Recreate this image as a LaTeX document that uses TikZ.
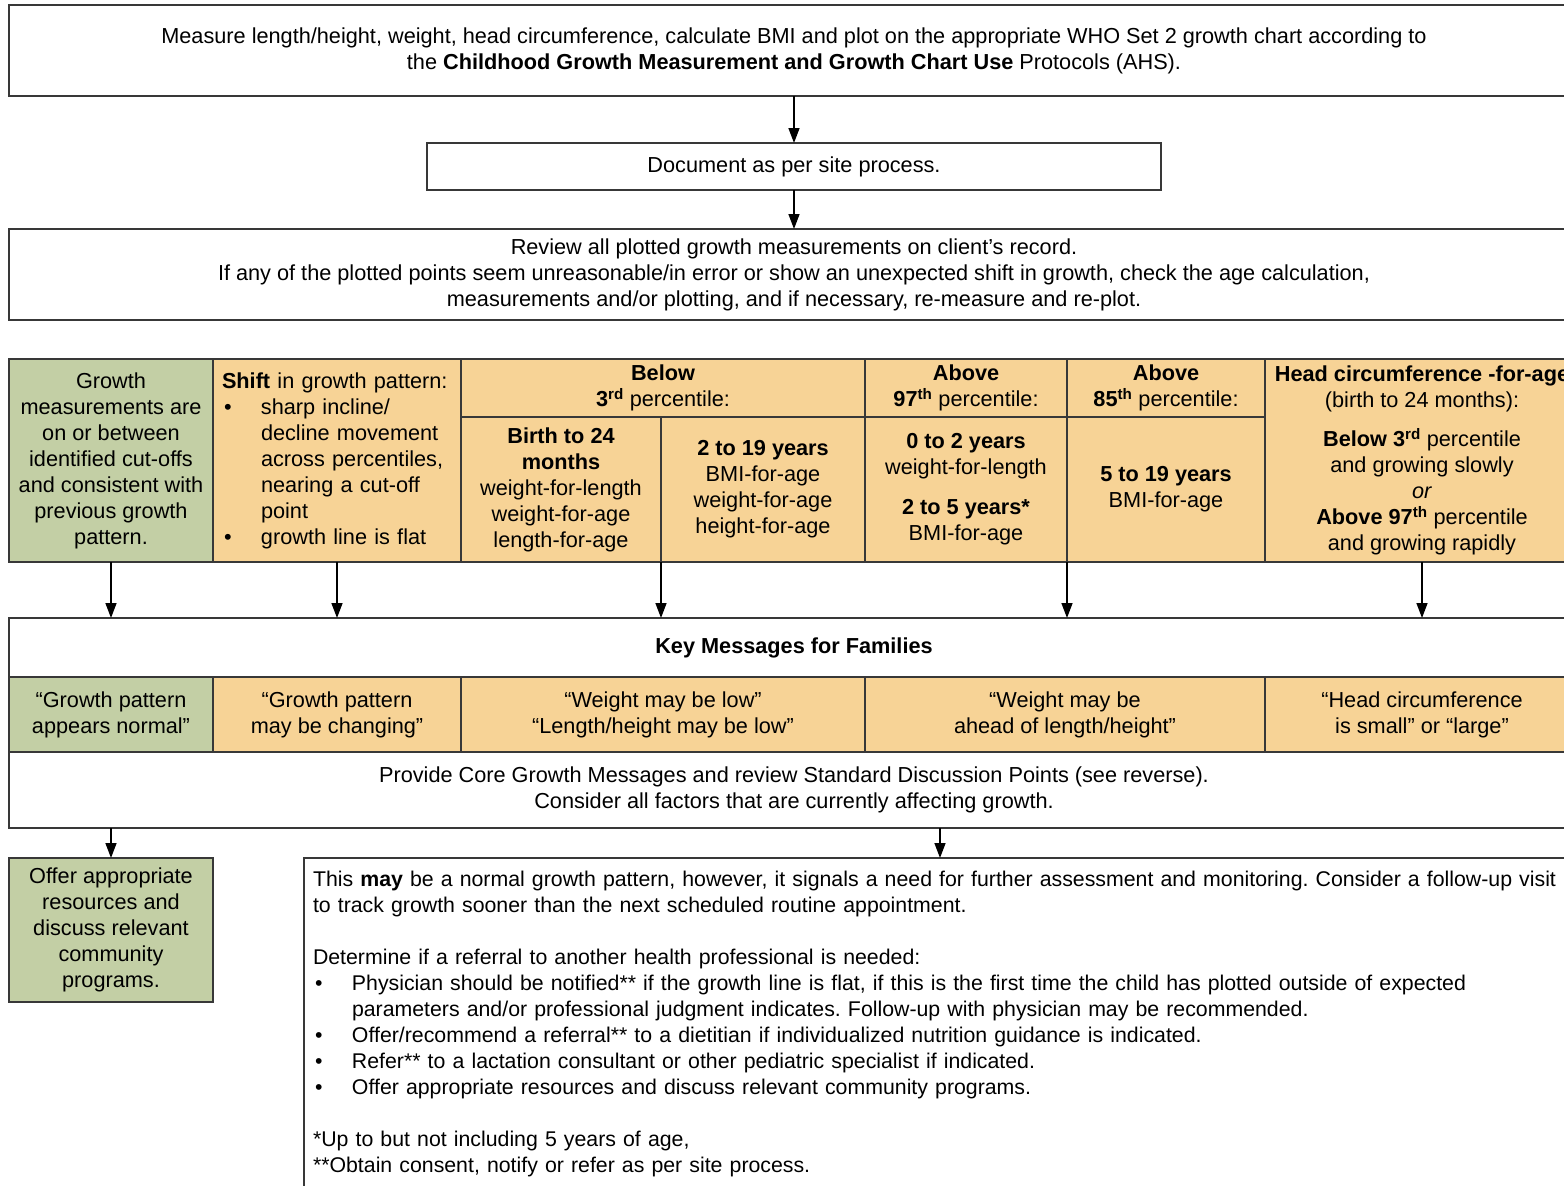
\documentclass[tikz,border=0pt]{standalone}
\usepackage{fontspec}
\setmainfont{Liberation Sans}
\usetikzlibrary{arrows.meta}
\definecolor{gfill}{HTML}{C3CFA5}
\definecolor{ofill}{HTML}{F7D396}
\definecolor{linec}{HTML}{383838}
\newcommand{\bul}{\makebox[39pt][l]{\hspace{2pt}\textbullet}}
\newcommand{\ind}{\hspace*{39pt}}
\frenchspacing
\begin{document}
\begin{tikzpicture}[x=1pt,y=-1pt,
  every node/.style={font=\fontsize{21.7}{26}\selectfont, inner sep=0pt, outer sep=0pt},
  box/.style={draw=linec, line width=1.3pt, fill=white, anchor=north west, align=center},
  gcell/.style={box, fill=gfill},
  ocell/.style={box, fill=ofill},
  arr/.style={draw=black, line width=1.5pt, -{Triangle[length=15pt,width=11pt]}}]
\useasboundingbox (0,0) rectangle (1564,1186);
\clip (0,0) rectangle (1564,1186);

% top flow
\node[box, minimum width=1570pt, minimum height=91pt] (top) at (9,5)
  {Measure length/height, weight, head circumference, calculate BMI and plot on the appropriate WHO Set 2 growth chart according to\\
   the \textbf{Childhood Growth Measurement and Growth Chart Use} Protocols (AHS).};
\node[box, minimum width=734pt, minimum height=47pt] (doc) at (427,143) {Document as per site process.};
\node[box, minimum width=1570pt, minimum height=91pt] (rev) at (9,229)
  {Review all plotted growth measurements on client’s record.\\
   If any of the plotted points seem unreasonable/in error or show an unexpected shift in growth, check the age calculation,\\
   measurements and/or plotting, and if necessary, re-measure and re-plot.};

% table
\node[gcell, minimum width=204pt, minimum height=203pt] (grow) at (9,359)
  {Growth\\measurements are\\on or between\\identified cut-offs\\and consistent with\\previous growth\\pattern.};
\node[ocell, minimum width=248pt, minimum height=203pt, text width=230pt, align=left] (shift) at (213,359)
  {\textbf{Shift} in growth pattern:\\
   \bul sharp incline/\\
   \ind decline movement\\
   \ind across percentiles,\\
   \ind nearing a cut-off\\
   \ind point\\
   \bul growth line is flat};
\node[ocell, minimum width=404pt, minimum height=58pt] (below) at (461,359)
  {\textbf{Below}\\\textbf{3\textsuperscript{rd}} percentile:};
\node[ocell, minimum width=200pt, minimum height=145pt] (bA) at (461,417)
  {\textbf{Birth to 24}\\\textbf{months}\\weight-for-length\\weight-for-age\\length-for-age};
\node[ocell, minimum width=204pt, minimum height=145pt] (bB) at (661,417)
  {\textbf{2 to 19 years}\\BMI-for-age\\weight-for-age\\height-for-age};
\node[ocell, minimum width=202pt, minimum height=58pt] (a97) at (865,359)
  {\textbf{Above}\\\textbf{97\textsuperscript{th}} percentile:};
\node[ocell, minimum width=202pt, minimum height=145pt] (a97b) at (865,417)
  {\textbf{0 to 2 years}\\weight-for-length\\[14pt]\textbf{2 to 5 years*}\\BMI-for-age};
\node[ocell, minimum width=198pt, minimum height=58pt] (a85) at (1067,359)
  {\textbf{Above}\\\textbf{85\textsuperscript{th}} percentile:};
\node[ocell, minimum width=198pt, minimum height=145pt] (a85b) at (1067,417)
  {\textbf{5 to 19 years}\\BMI-for-age};
\node[ocell, minimum width=314pt, minimum height=203pt] (head) at (1265,359)
  {\textbf{Head circumference -for-age}\\(birth to 24 months):\\[13pt]
   \textbf{Below 3\textsuperscript{rd}} percentile\\and growing slowly\\\textit{or}\\
   \textbf{Above 97\textsuperscript{th}} percentile\\and growing rapidly};

% key messages
\node[box, minimum width=1570pt, minimum height=59pt] (key) at (9,618) {\textbf{Key Messages for Families}};
\node[gcell, minimum width=204pt, minimum height=75pt] (k1) at (9,677) {“Growth pattern\\appears normal”};
\node[ocell, minimum width=248pt, minimum height=75pt] (k2) at (213,677) {“Growth pattern\\may be changing”};
\node[ocell, minimum width=404pt, minimum height=75pt] (k3) at (461,677) {“Weight may be low”\\“Length/height may be low”};
\node[ocell, minimum width=400pt, minimum height=75pt] (k4) at (865,677) {“Weight may be\\ahead of length/height”};
\node[ocell, minimum width=314pt, minimum height=75pt] (k5) at (1265,677) {“Head circumference\\is small” or “large”};
\node[box, minimum width=1570pt, minimum height=76pt] (prov) at (9,752)
  {Provide Core Growth Messages and review Standard Discussion Points (see reverse).\\
   Consider all factors that are currently affecting growth.};

% bottom
\node[gcell, minimum width=204pt, minimum height=144pt] (fin) at (9,858)
  {Offer appropriate\\resources and\\discuss relevant\\community\\programs.};
\node[box, font=\fontsize{21.3}{26}\selectfont, text width=1254pt, align=left, inner xsep=9pt, inner ysep=13pt] (big) at (304,858)
  {\mbox{This \textbf{may} be a normal growth pattern, however, it signals a need for further assessment and monitoring. Consider a follow-up visit}\\
   \mbox{to track growth sooner than the next scheduled routine appointment.}\\[26pt]
   \mbox{Determine if a referral to another health professional is needed:}\\
   \mbox{\bul Physician should be notified** if the growth line is flat, if this is the first time the child has plotted outside of expected}\\
   \mbox{\ind parameters and/or professional judgment indicates. Follow-up with physician may be recommended.}\\
   \mbox{\bul Offer/recommend a referral** to a dietitian if individualized nutrition guidance is indicated.}\\
   \mbox{\bul Refer** to a lactation consultant or other pediatric specialist if indicated.}\\
   \mbox{\bul Offer appropriate resources and discuss relevant community programs.}\\[26pt]
   \mbox{*Up to but not including 5 years of age,}\\
   \mbox{**Obtain consent, notify or refer as per site process.}\\[40pt]\mbox{}};

% connectors
\draw[arr] (top.south) -- (doc.north);
\draw[arr] (doc.south) -- (rev.north);
\draw[arr] (grow.south) -- (grow.south |- key.north);
\draw[arr] (shift.south) -- (shift.south |- key.north);
\draw[arr] (bA.south east) -- (bA.south east |- key.north);
\draw[arr] (a97b.south east) -- (a97b.south east |- key.north);
\draw[arr] (head.south) -- (head.south |- key.north);
\draw[arr] (prov.south -| fin.north) -- (fin.north);
\draw[arr] (prov.south -| big.north) -- (big.north);
\end{tikzpicture}
\end{document}
